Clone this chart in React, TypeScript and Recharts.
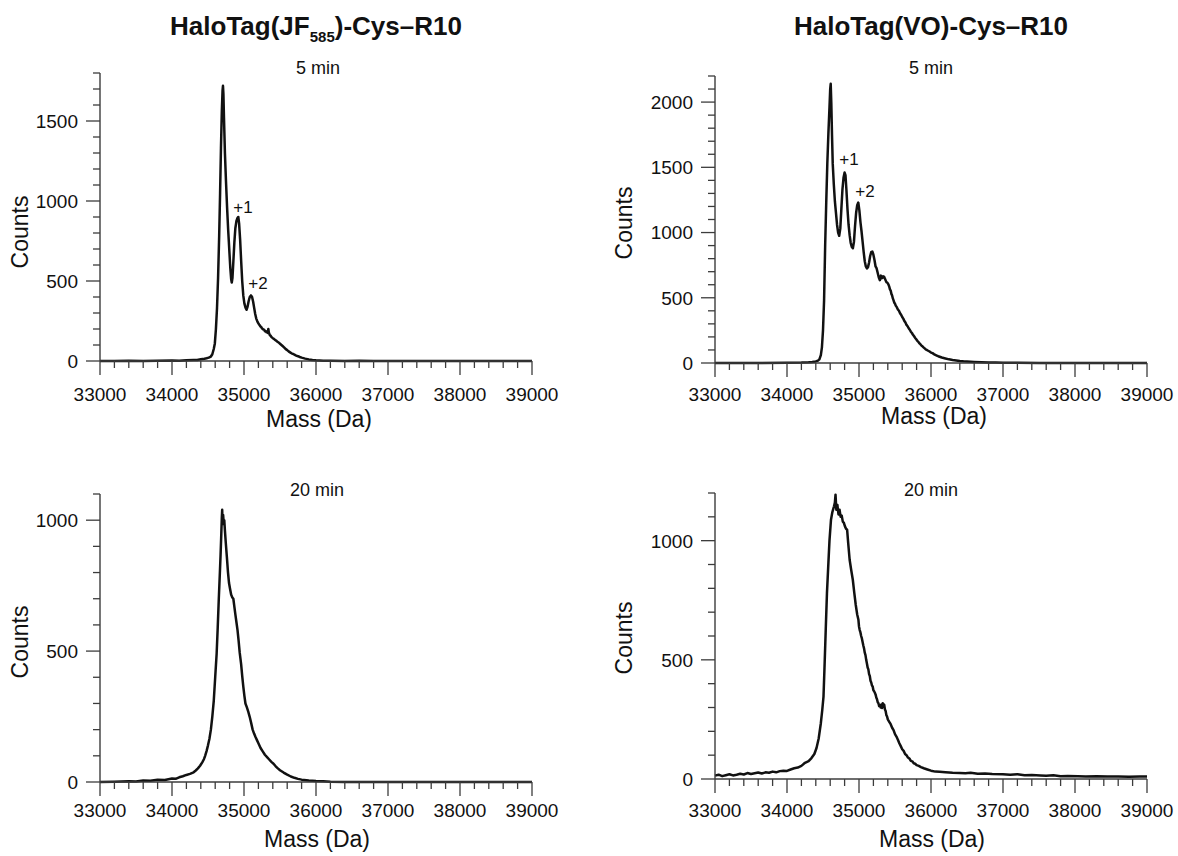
import React from 'react';
import { LineChart, Line, XAxis, YAxis } from 'recharts';

// deconvoluted mass spectra, [mass (Da), counts]
const jf585At5min: [number, number][] = [
  [33000, 0], [33200, 0], [33400, 1], [33600, 0], [33800, 2], [34000, 3], [34100, 2], [34200, 5],
  [34300, 7], [34350, 6], [34400, 11], [34450, 14], [34480, 17], [34510, 21], [34540, 28], [34560, 42],
  [34580, 75], [34595, 110], [34610, 200], [34625, 330], [34640, 520], [34655, 780], [34668, 1050],
  [34680, 1330], [34692, 1560], [34702, 1690], [34708, 1720], [34714, 1670], [34722, 1520], [34735, 1300],
  [34750, 1120], [34765, 960], [34780, 820], [34795, 700], [34810, 580], [34822, 510], [34830, 490],
  [34840, 520], [34852, 620], [34866, 740], [34880, 830], [34895, 875], [34910, 895], [34921, 900],
  [34932, 860], [34946, 760], [34960, 630], [34975, 500], [34990, 410], [35005, 360], [35020, 335],
  [35035, 320], [35050, 340], [35065, 375], [35080, 400], [35097, 410], [35112, 400], [35127, 370],
  [35140, 335], [35155, 295], [35170, 265], [35185, 248], [35200, 235], [35210, 228], [35220, 222],
  [35230, 215], [35240, 212], [35250, 204], [35260, 200], [35270, 196], [35280, 195], [35290, 186],
  [35300, 188], [35310, 180], [35320, 182], [35330, 176], [35338, 200], [35345, 178], [35360, 160],
  [35370, 158], [35380, 150], [35390, 147], [35400, 142], [35415, 138], [35430, 132], [35445, 128],
  [35460, 122], [35480, 116], [35500, 108], [35520, 100], [35540, 92], [35560, 84], [35580, 74],
  [35600, 68], [35620, 60], [35640, 54], [35660, 48], [35680, 44], [35700, 40], [35725, 34], [35750, 30],
  [35775, 25], [35800, 21], [35850, 15], [35900, 10], [35950, 6], [36000, 4], [36100, 2], [36200, 1],
  [36400, 0], [36600, 1], [36800, 0], [37000, 0], [37500, 0], [38000, 0], [38500, 0], [39000, 0],
];

const voAt5min: [number, number][] = [
  [33000, 0], [33500, 0], [34000, 2], [34200, 3], [34300, 5], [34350, 8], [34400, 12], [34430, 18],
  [34450, 28], [34470, 60], [34485, 120], [34500, 250], [34515, 480], [34530, 900], [34545, 1230],
  [34560, 1530], [34575, 1760], [34590, 1960], [34600, 2100], [34607, 2140], [34615, 2000], [34625, 1750],
  [34635, 1530], [34650, 1370], [34665, 1240], [34680, 1150], [34695, 1060], [34710, 1000], [34725, 975],
  [34740, 1030], [34755, 1180], [34770, 1330], [34785, 1420], [34800, 1460], [34812, 1440], [34825, 1330],
  [34840, 1180], [34855, 1060], [34870, 980], [34885, 920], [34900, 890], [34915, 880], [34930, 930],
  [34945, 1050], [34960, 1150], [34975, 1210], [34990, 1230], [35005, 1170], [35020, 1080], [35035, 1010],
  [35050, 930], [35065, 850], [35080, 780], [35095, 740], [35110, 725], [35125, 735], [35140, 770],
  [35155, 820], [35170, 850], [35185, 855], [35200, 830], [35215, 790], [35230, 740], [35245, 725],
  [35260, 690], [35275, 655], [35290, 635], [35305, 670], [35320, 650], [35335, 665], [35350, 660],
  [35365, 640], [35380, 620], [35395, 615], [35410, 600], [35420, 585], [35430, 565], [35440, 555],
  [35450, 530], [35460, 518], [35470, 495], [35480, 480], [35490, 462], [35500, 455], [35510, 440],
  [35525, 428], [35540, 410], [35555, 400], [35570, 382], [35585, 370], [35600, 352], [35615, 340],
  [35630, 322], [35645, 310], [35660, 292], [35675, 282], [35690, 266], [35705, 255], [35720, 240],
  [35735, 230], [35750, 216], [35765, 205], [35780, 192], [35795, 182], [35810, 170], [35825, 162],
  [35840, 150], [35855, 142], [35870, 132], [35885, 126], [35900, 118], [35920, 108], [35940, 100],
  [35960, 94], [35980, 88], [36000, 80], [36020, 76], [36040, 68], [36060, 62], [36080, 57], [36100, 52],
  [36150, 42], [36200, 35], [36250, 28], [36300, 23], [36350, 20], [36400, 16], [36450, 13], [36500, 11],
  [36600, 8], [36700, 6], [36800, 4], [36900, 3], [37000, 2], [37200, 1], [37500, 0], [38000, 0],
  [38500, 0], [39000, 0],
];

const jf585At20min: [number, number][] = [
  [33000, 0], [33200, 1], [33400, 3], [33500, 2], [33600, 6], [33700, 5], [33800, 9], [33900, 8],
  [34000, 13], [34050, 12], [34100, 18], [34150, 22], [34200, 27], [34250, 31], [34300, 37], [34330, 44],
  [34360, 52], [34390, 62], [34420, 75], [34445, 88], [34460, 100], [34480, 118], [34500, 140], [34520, 165],
  [34540, 200], [34560, 250], [34580, 310], [34600, 400], [34620, 490], [34635, 590], [34650, 700],
  [34665, 800], [34675, 870], [34685, 950], [34692, 1010], [34697, 1040], [34703, 985], [34710, 1020],
  [34718, 990], [34726, 1000], [34735, 960], [34748, 910], [34762, 860], [34778, 800], [34792, 760],
  [34808, 735], [34822, 715], [34838, 705], [34852, 700], [34866, 670], [34880, 640], [34895, 610],
  [34910, 580], [34925, 540], [34940, 495], [34960, 450], [34975, 405], [34990, 365], [35005, 330],
  [35020, 300], [35040, 285], [35060, 268], [35080, 248], [35100, 225], [35120, 200], [35140, 185],
  [35160, 172], [35180, 160], [35200, 148], [35230, 130], [35260, 117], [35290, 104], [35320, 95],
  [35350, 86], [35380, 77], [35410, 70], [35440, 60], [35470, 52], [35500, 45], [35550, 36], [35600, 28],
  [35650, 21], [35700, 16], [35750, 12], [35800, 9], [35900, 6], [36000, 4], [36100, 3], [36200, 1],
  [36400, 0], [37000, 0], [38000, 0], [39000, 0],
];

const voAt20min: [number, number][] = [
  [33000, 14], [33050, 18], [33100, 12], [33150, 16], [33200, 20], [33250, 15], [33300, 18], [33350, 22],
  [33400, 19], [33450, 25], [33500, 21], [33550, 24], [33600, 27], [33650, 23], [33700, 28], [33750, 26],
  [33800, 31], [33850, 28], [33900, 33], [33950, 35], [34000, 34], [34050, 40], [34100, 45], [34150, 48],
  [34200, 55], [34250, 68], [34300, 75], [34340, 88], [34380, 105], [34410, 130], [34440, 170], [34470, 234],
  [34490, 290], [34507, 346], [34520, 460], [34538, 626], [34555, 780], [34575, 907], [34590, 1000],
  [34611, 1088], [34630, 1120], [34653, 1144], [34665, 1160], [34674, 1193], [34685, 1130], [34700, 1150],
  [34715, 1110], [34730, 1130], [34745, 1100], [34760, 1105], [34775, 1080], [34790, 1075], [34805, 1060],
  [34820, 1050], [34835, 1046], [34850, 990], [34870, 920], [34890, 880], [34914, 836], [34935, 780],
  [34955, 730], [34975, 690], [34992, 668], [35000, 640], [35010, 625], [35020, 615], [35030, 600],
  [35040, 590], [35050, 575], [35060, 560], [35070, 548], [35080, 530], [35090, 520], [35100, 500],
  [35110, 485], [35120, 468], [35130, 460], [35140, 440], [35150, 432], [35160, 412], [35170, 405],
  [35180, 392], [35190, 388], [35200, 372], [35210, 368], [35220, 362], [35230, 355], [35240, 342],
  [35250, 335], [35260, 322], [35270, 318], [35280, 306], [35290, 310], [35300, 300], [35310, 312],
  [35320, 298], [35330, 318], [35340, 305], [35350, 312], [35360, 292], [35370, 285], [35380, 268],
  [35390, 262], [35400, 250], [35420, 240], [35440, 230], [35460, 215], [35480, 205], [35500, 188],
  [35520, 178], [35540, 165], [35560, 150], [35580, 138], [35600, 125], [35620, 118], [35640, 105],
  [35660, 100], [35680, 90], [35700, 86], [35720, 76], [35740, 74], [35760, 66], [35780, 64], [35800, 58],
  [35830, 55], [35860, 50], [35900, 45], [35950, 40], [36000, 35], [36060, 31], [36120, 30], [36200, 28],
  [36300, 26], [36400, 25], [36477, 24], [36550, 26], [36650, 22], [36750, 23], [36850, 21], [36998, 20],
  [37100, 18], [37200, 20], [37300, 16], [37400, 17], [37520, 15], [37600, 14], [37700, 16], [37800, 12],
  [37900, 13], [38040, 12], [38150, 11], [38300, 12], [38450, 10], [38600, 11], [38750, 9], [38900, 10],
  [39000, 10],
];

const massMajorTicks = [33000, 34000, 35000, 36000, 37000, 38000, 39000];
const massMinorStep = 200;
const countMajorStep = 500;
const countMinorStep = 100;

const FONT = '"Liberation Sans", Arial, Helvetica, sans-serif';
const INK = '#111';
const AXIS = '#3c3c3c';

// room reserved by recharts for the axes
const Y_W = 60;
const X_H = 30;

function stepTicks(min: number, max: number, step: number) {
  const out: number[] = [];
  for (let v = min; v <= max; v += step) out.push(v);
  return out;
}

const toRows = (pts: [number, number][]) => pts.map(([mass, counts]) => ({ mass, counts }));

const panels = [
  { key: 'jf5', data: jf585At5min, yMax: 1800, col: 0, row: 0, box: { left: 100, top: 73, right: 532, bottom: 361 }, labelDy: 40 },
  { key: 'vo5', data: voAt5min, yMax: 2200, col: 1, row: 0, box: { left: 715, top: 76, right: 1147, bottom: 363 }, labelDy: 38 },
  { key: 'jf20', data: jf585At20min, yMax: 1100, col: 0, row: 1, box: { left: 100, top: 494, right: 532, bottom: 782 }, labelDy: 35 },
  { key: 'vo20', data: voAt20min, yMax: 1200, col: 1, row: 1, box: { left: 715, top: 493, right: 1147, bottom: 779 }, labelDy: 38 },
];

const CW = 589;
const CH = 428;

function Panel({ p }: { p: (typeof panels)[number] }) {
  const cx = p.col * CW;
  const cy = p.row * CH;
  const margin = {
    left: p.box.left - cx - Y_W,
    top: p.box.top - cy,
    right: cx + CW - p.box.right,
    bottom: cy + CH - p.box.bottom - X_H,
  };

  const xTick = (props: any) => {
    const { x, y, payload } = props;
    const v = payload.value;
    const major = massMajorTicks.includes(v);
    return (
      <g>
        <line x1={x} x2={x} y1={y} y2={y + (major ? 14 : 7)} stroke={AXIS} strokeWidth={1.3} />
        {major && (
          <text x={x} y={y + p.labelDy} textAnchor="middle" fontSize={19} fontFamily={FONT} fill={INK}>
            {v}
          </text>
        )}
      </g>
    );
  };

  const yTick = (props: any) => {
    const { x, y, payload } = props;
    const v = payload.value;
    const major = v % countMajorStep === 0;
    return (
      <g>
        <line x1={x - (major ? 14 : 7)} x2={x} y1={y} y2={y} stroke={AXIS} strokeWidth={1.3} />
        {major && (
          <text x={x - 22} y={y} dy="0.36em" textAnchor="end" fontSize={19} fontFamily={FONT} fill={INK}>
            {v}
          </text>
        )}
      </g>
    );
  };

  return (
    <div style={{ position: 'absolute', left: cx, top: cy, width: CW, height: CH }}>
      <LineChart width={CW} height={CH} data={toRows(p.data)} margin={margin}>
        <XAxis
          dataKey="mass"
          type="number"
          domain={[33000, 39000]}
          ticks={stepTicks(33000, 39000, massMinorStep)}
          interval={0}
          height={X_H}
          tickSize={0}
          tickMargin={0}
          tickLine={false}
          axisLine={{ stroke: AXIS, strokeWidth: 1.4 }}
          tick={xTick}
        />
        <YAxis
          type="number"
          domain={[0, p.yMax]}
          ticks={stepTicks(0, p.yMax, countMinorStep)}
          interval={0}
          width={Y_W}
          tickSize={0}
          tickMargin={0}
          tickLine={false}
          axisLine={{ stroke: AXIS, strokeWidth: 1.4 }}
          tick={yTick}
        />
        <Line
          type="linear"
          dataKey="counts"
          stroke={INK}
          strokeWidth={2.5}
          strokeLinejoin="round"
          dot={false}
          isAnimationActive={false}
        />
      </LineChart>
    </div>
  );
}

export default function App() {
  const txt = { fontFamily: FONT, fill: INK };
  return (
    <div style={{ position: 'absolute', left: 0, top: 0, width: 1178, height: 856, background: '#fff' }}>
      {panels.map((p) => (
        <Panel key={p.key} p={p} />
      ))}
      <svg width={1178} height={856} style={{ position: 'absolute', left: 0, top: 0, pointerEvents: 'none' }}>
        <text x={316} y={35} textAnchor="middle" fontSize={26} fontWeight="bold" {...txt}>
          HaloTag(JF
          <tspan fontSize={15} dy={7}>585</tspan>
          <tspan dy={-7}>)-Cys–R10</tspan>
        </text>
        <text x={931} y={35} textAnchor="middle" fontSize={26} fontWeight="bold" {...txt}>
          HaloTag(VO)-Cys–R10
        </text>

        <text x={318} y={74} textAnchor="middle" fontSize={18} {...txt}>5 min</text>
        <text x={931} y={74} textAnchor="middle" fontSize={18} {...txt}>5 min</text>
        <text x={317} y={496} textAnchor="middle" fontSize={18} {...txt}>20 min</text>
        <text x={931} y={496} textAnchor="middle" fontSize={18} {...txt}>20 min</text>

        <text x={243} y={213} textAnchor="middle" fontSize={17} {...txt}>+1</text>
        <text x={258} y={289} textAnchor="middle" fontSize={17} {...txt}>+2</text>
        <text x={849} y={165} textAnchor="middle" fontSize={17} {...txt}>+1</text>
        <text x={865} y={197} textAnchor="middle" fontSize={17} {...txt}>+2</text>

        <text transform="translate(28,232) rotate(-90)" textAnchor="middle" fontSize={23} {...txt}>Counts</text>
        <text transform="translate(632,223) rotate(-90)" textAnchor="middle" fontSize={23} {...txt}>Counts</text>
        <text transform="translate(28,642) rotate(-90)" textAnchor="middle" fontSize={23} {...txt}>Counts</text>
        <text transform="translate(632,638) rotate(-90)" textAnchor="middle" fontSize={23} {...txt}>Counts</text>

        <text x={319} y={427} textAnchor="middle" fontSize={23} {...txt}>Mass (Da)</text>
        <text x={934} y={424} textAnchor="middle" fontSize={23} {...txt}>Mass (Da)</text>
        <text x={317} y={847} textAnchor="middle" fontSize={23} {...txt}>Mass (Da)</text>
        <text x={932} y={847} textAnchor="middle" fontSize={23} {...txt}>Mass (Da)</text>
      </svg>
    </div>
  );
}
